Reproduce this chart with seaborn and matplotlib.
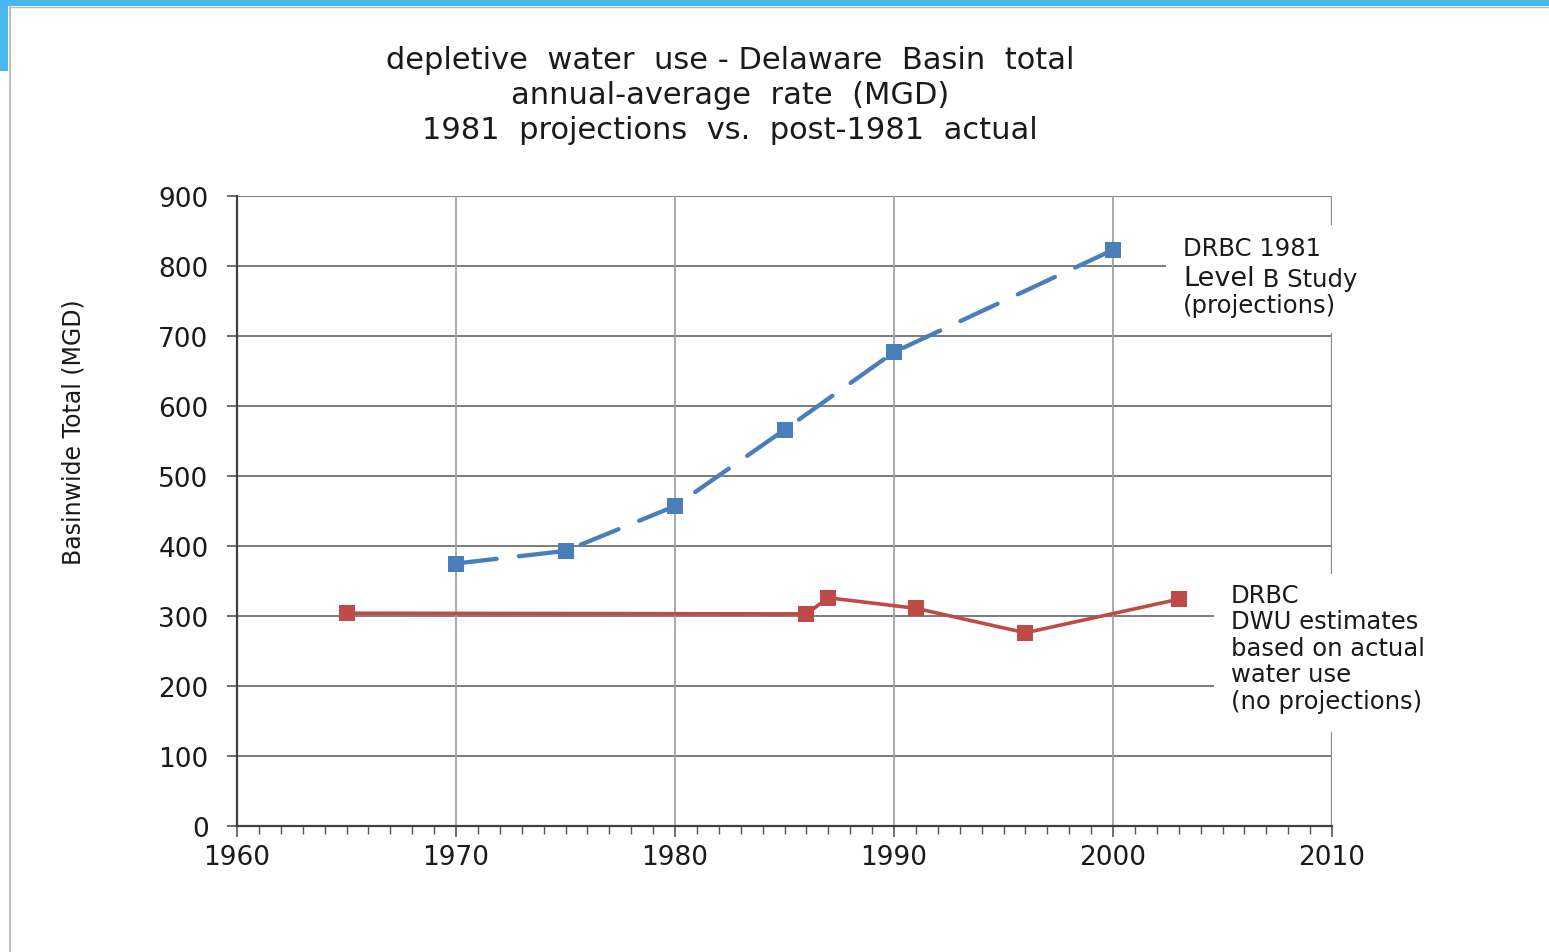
import matplotlib
matplotlib.use("Agg")
import matplotlib.pyplot as plt
from matplotlib.patches import Rectangle
from matplotlib.lines import Line2D
from matplotlib.ticker import MultipleLocator
import seaborn as sns
import pandas as pd

# DRBC 1981 Level B Study projections
proj_years = [1970, 1975, 1980, 1985, 1990, 2000]
proj_mgd = [375, 393, 457, 566, 677, 823]

# DRBC depletive water use estimates from actual use
actual_years = [1965, 1986, 1987, 1991, 1996, 2003]
actual_mgd = [304, 303, 326, 311, 276, 324]

x_ticks = [1960, 1970, 1980, 1990, 2000, 2010]
y_ticks = [0, 100, 200, 300, 400, 500, 600, 700, 800, 900]

title_text = ("depletive  water  use - Delaware  Basin  total\n"
              "annual-average  rate  (MGD)\n"
              "1981  projections  vs.  post-1981  actual")

BLUE = "#4a7ebb"
RED = "#be4b48"
INK = "#1a1a1a"

sns.set_style("white")
plt.rcParams["font.family"] = ["DejaVu Sans"]

W, H = 1549, 953
fig = plt.figure(figsize=(W / 100, H / 100), dpi=100)
fig.patch.set_facecolor("white")


def px(x, y):
    """Pixel position (from top-left) to figure fraction."""
    return x / W, 1 - y / H


# slide frame: blue header band, small left tab, thin gray border
fig.patches.append(Rectangle((0, 1 - 7 / H), 1, 7 / H, transform=fig.transFigure,
                             facecolor="#49b6ef", edgecolor="none", zorder=0))
fig.patches.append(Rectangle((0, 1 - 72 / H), 8 / W, 72 / H, transform=fig.transFigure,
                             facecolor="#49b6ef", edgecolor="none", zorder=0))
fig.lines.append(Line2D([9.5 / W, 9.5 / W], [0, 1 - 7 / H], transform=fig.transFigure,
                        color="#b0b0b0", lw=1.2))
fig.lines.append(Line2D([9.5 / W, 1], [1 - 7.5 / H, 1 - 7.5 / H], transform=fig.transFigure,
                        color="#b8b8b8", lw=1.0))

ax = fig.add_axes([237 / W, 1 - 827 / H, (1332 - 237) / W, (827 - 197) / H])

proj_df = pd.DataFrame({"year": proj_years, "mgd": proj_mgd})
actual_df = pd.DataFrame({"year": actual_years, "mgd": actual_mgd})

sns.lineplot(data=proj_df, x="year", y="mgd", ax=ax, color=BLUE, lw=3.1,
             marker="s", markersize=11.5, markeredgewidth=0, zorder=5)
proj_line = ax.lines[-1]
proj_line.set_dashes([9.5, 5.2])
proj_line.set_dash_capstyle("round")
sns.lineplot(data=actual_df, x="year", y="mgd", ax=ax, color=RED, lw=2.6,
             marker="s", markersize=11.5, markeredgewidth=0, zorder=5)

ax.set_xlim(1960, 2010)
ax.set_ylim(0, 900)
ax.set_xticks(x_ticks)
ax.set_yticks(y_ticks)
ax.xaxis.set_minor_locator(MultipleLocator(1))

# gridlines: darker horizontals, lighter verticals
ax.grid(False)
for y in y_ticks[1:]:
    ax.axhline(y, color="#7c7c7c", lw=1.4, zorder=1)
for x in x_ticks[1:-1]:
    ax.axvline(x, color="#a3a3a3", lw=1.3, zorder=1)
ax.axvline(2010, color="#8a8a8a", lw=1.6, zorder=1)

for side in ["top", "right"]:
    ax.spines[side].set_visible(False)
for side in ["left", "bottom"]:
    ax.spines[side].set_color("#404040")
    ax.spines[side].set_linewidth(1.6)

ax.tick_params(axis="y", which="major", direction="out", length=7, width=1.2,
               color="#555555", left=True, labelsize=19, pad=13.5, labelcolor=INK)
ax.tick_params(axis="x", which="major", direction="out", length=8, width=1.2,
               color="#555555", bottom=True, labelsize=19, pad=5, labelcolor=INK)
ax.tick_params(axis="x", which="minor", direction="out", length=6, width=1.0,
               color="#555555", bottom=True)

ax.set_xlabel("")
ax.set_ylabel("Basinwide Total (MGD)", fontsize=17, color=INK)
ax.yaxis.set_label_coords((86 - 237) / (1332 - 237), 1 - (432 - 197) / (827 - 197))

fig.text(*px(730, 46), title_text, ha="center", va="top",
         fontsize=22, linespacing=1.26, color=INK)

# series labels on white patches that interrupt the grid
fig.patches.append(Rectangle(px(1166, 334), 180 / W, 108 / H,
                             transform=fig.transFigure, facecolor="white",
                             edgecolor="none", zorder=9))
fig.text(*px(1183, 256), "DRBC 1981", ha="left", va="baseline",
         fontsize=17.5, color=INK, zorder=10)
t_lv = fig.text(*px(1183, 286), "Level", ha="left", va="baseline",
                fontsize=19.5, color=INK, zorder=10)
fig.add_artist(matplotlib.text.Annotation(
    " B Study", xy=(1, 0), xycoords=t_lv, ha="left", va="bottom",
    fontsize=17.5, color=INK, zorder=10))
fig.text(*px(1183, 313), "(projections)", ha="left", va="baseline",
         fontsize=17.5, color=INK, zorder=10)

fig.patches.append(Rectangle(px(1214, 733), 225 / W, 158 / H,
                             transform=fig.transFigure, facecolor="white",
                             edgecolor="none", zorder=9))
fig.text(*px(1231, 584),
         "DRBC\nDWU estimates\nbased on actual\nwater use\n(no projections)",
         ha="left", va="top", fontsize=17.5, linespacing=1.13, color=INK, zorder=10)

fig.savefig("out.png", dpi=100, facecolor="white")
